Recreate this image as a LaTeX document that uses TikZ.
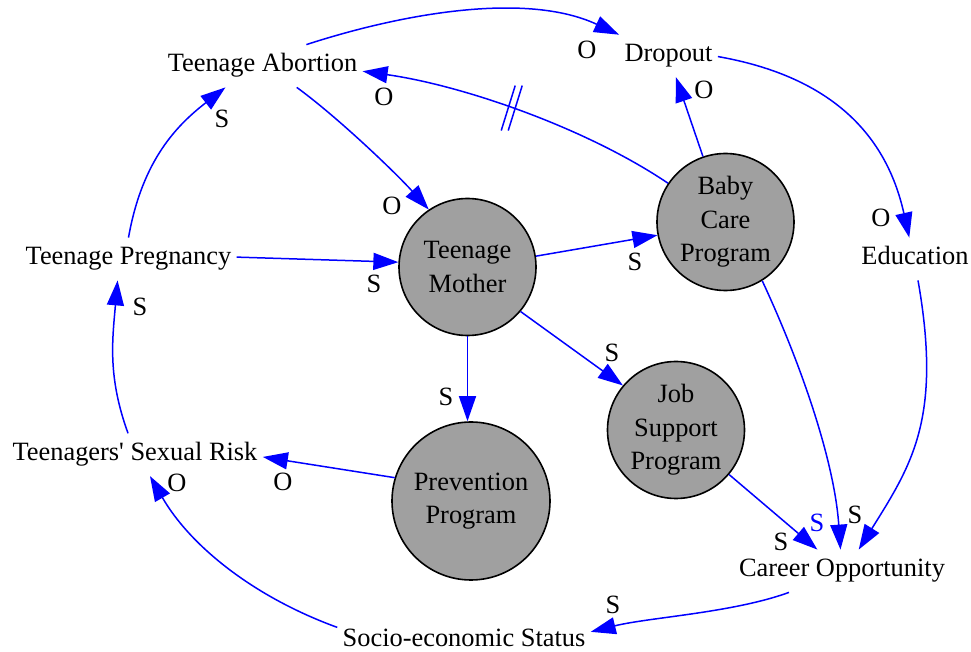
\documentclass[tikz,border=0pt]{standalone}
\usepackage{fontspec}
\setmainfont{Liberation Serif}
\usetikzlibrary{arrows.meta,calc}
\definecolor{gfill}{RGB}{160,160,160}
\begin{document}
\begin{tikzpicture}[x=0.5pt,y=0.5pt,
  font=\fontsize{13.2}{16.8}\selectfont,
  txt/.style={inner xsep=2.5pt, inner ysep=4.5pt, text height=9pt, text depth=3pt},
  circ/.style={circle, draw=black, fill=gfill, line width=0.8pt, minimum size=68.5pt, inner sep=0pt, align=center},
  e/.style={draw=blue, line width=0.75pt, -{Triangle[length=12.5pt,width=8.5pt]}},
  lab/.style={inner sep=0pt},
  labb/.style={inner sep=0pt, text=blue}]
\useasboundingbox (0,0) rectangle (971,-652);

% text nodes (centers)
\node[txt] (ab) at (262.5,-66) {Teenage Abortion};
\node[txt] (dr) at (668.5,-55.7) {Dropout};
\node[txt] (ed) at (915,-259) {Education};
\node[txt] (tp) at (128.5,-259) {Teenage Pregnancy};
\node[txt] (sr) at (135,-454.7) {Teenagers\textquotesingle{} Sexual Risk};
\node[txt] (se) at (464,-640.7) {Socio-economic Status};
\node[txt] (co) at (842,-571) {Career Opportunity};

% circle nodes
\node[circ] (tm) at (467.5,-267) {Teenage\\Mother};
\node[circ] (bc) at (725.5,-222) {Baby\\Care\\Program};
\node[circ] (js) at (676,-430) {Job\\Support\\Program};
\node[circ, minimum size=79pt] (pp) at (471,-501) {Prevention\\Program};

% edges
\draw[e] (ab.26) .. controls +(18:102) and +(155:102) .. (dr.157);
\draw[e] (bc.146) .. controls +(146:100) and +(-8:100) .. (ab.-3) coordinate[pos=0.53] (dm);
\draw[draw=blue, line width=0.75pt] ($(dm)+(-10.5,-22.5)$) -- ++(14,45);
\draw[draw=blue, line width=0.75pt] ($(dm)+(-3.5,-22.5)$) -- ++(14,45);
\draw[e] (ab.-32) .. controls +(-36:50) and +(132:50) .. (tm.124);
\draw[e] (tp.90) .. controls +(80:80) and +(-142:60) .. (ab.210);
\draw[e] (tp.1) -- (tm.176);
\draw[e] (tm.9) -- (bc.191);
\draw[e] (bc.109) -- (dr.-71);
\draw[e] (dr.-1) .. controls +(-10:110) and +(102.5:110) .. (ed.105);
\draw[e] (tm.-40) -- (js.140);
\draw[e] (tm.south) -- (tm.south |- pp.north);
\draw[e] (pp.163) -- (sr.-1);
\draw[e] (sr.108) .. controls +(110:60) and +(-95:60) .. (tp.243);
\draw[e] (se.174) .. controls +(160:90) and +(-60:80) .. (sr.-55);
\draw[e] (co.202) .. controls +(200:60) and +(14:60) .. (se.4);
\draw[e] (js.-40) -- (co.139);
\draw[e] (bc.-58) .. controls +(-65:90) and +(94:90) .. (co.94);
\draw[e] (ed.-82) .. controls +(-80:140) and +(58:100) .. (co.52);

% edge labels
\node[lab] (l1) at (587,-50) {O};
\node[lab] (l2) at (384,-97) {O};
\node[lab] (l3) at (392,-206) {O};
\node[lab] (l4) at (222,-119) {S};
\node[lab] (l5) at (374,-284) {S};
\node[lab] (l6) at (635,-262) {S};
\node[lab] (l7) at (704,-90) {O};
\node[lab] (l8) at (881,-218) {O};
\node[lab] (l9) at (612,-353) {S};
\node[lab] (l10) at (446,-397) {S};
\node[lab] (l11) at (283,-482) {O};
\node[lab] (l12) at (140,-307) {S};
\node[lab] (l13) at (177,-483) {O};
\node[lab] (l14) at (613,-605) {S};
\node[labb] (l15) at (817,-523) {S};
\node[lab] (l16) at (781,-542) {S};
\node[lab] (l17) at (855,-515) {S};
\end{tikzpicture}
\end{document}
